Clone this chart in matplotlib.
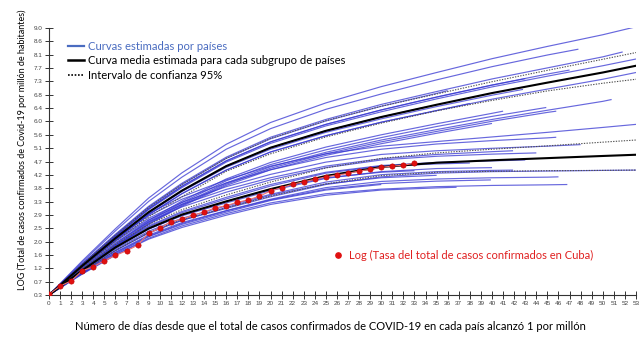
import numpy as np
import matplotlib
matplotlib.use("Agg")
import matplotlib.pyplot as plt
from matplotlib.lines import Line2D

# Days at which each estimated curve is tabulated; a curve stops at its own last day
knot_days = [0, 3, 6, 9, 12, 16, 20, 25, 30, 35, 40, 45, 50, 53]

# Group with faster growth: per-country estimated curves
upper_end_days = [53, 47.8, 51.8, 53, 53, 50.8, 42.8, 44.9, 45.8, 41, 38, 36, 43, 40, 34, 47]
upper_values = [
    [0.3, 1.41, 2.46, 3.46, 4.28, 5.21, 5.92, 6.56, 7.09, 7.55, 8.0, 8.4, 8.78, 9.04],
    [0.3, 1.37, 2.39, 3.35, 4.14, 5.05, 5.72, 6.35, 6.85, 7.31, 7.74, 8.12, 8.31],
    [0.3, 1.32, 2.28, 3.19, 3.94, 4.79, 5.44, 6.02, 6.51, 6.93, 7.34, 7.70, 8.06, 8.22],
    [0.3, 1.28, 2.21, 3.08, 3.8, 4.63, 5.24, 5.81, 6.27, 6.69, 7.08, 7.43, 7.77, 7.99],
    [0.3, 1.22, 2.09, 2.92, 3.6, 4.37, 4.96, 5.49, 5.93, 6.31, 6.68, 7.01, 7.33, 7.55],
    [0.3, 1.13, 1.91, 2.65, 3.26, 3.95, 4.48, 4.95, 5.35, 5.69, 6.02, 6.32, 6.61, 6.67],
    [0.3, 1.24, 2.13, 2.97, 3.67, 4.46, 5.05, 5.6, 6.04, 6.44, 6.81, 7.0],
    [0.3, 1.14, 1.94, 2.69, 3.31, 4.02, 4.55, 5.03, 5.43, 5.79, 6.12, 6.41],
    [0.3, 1.12, 1.89, 2.62, 3.22, 3.91, 4.43, 4.9, 5.29, 5.63, 5.96, 6.25, 6.29],
    [0.3, 1.16, 1.97, 2.73, 3.36, 4.08, 4.62, 5.12, 5.52, 5.88, 6.22, 6.29],
    [0.3, 1.22, 2.09, 2.92, 3.6, 4.37, 4.96, 5.49, 5.93, 6.31, 6.54],
    [0.3, 1.31, 2.26, 3.16, 3.9, 4.75, 5.39, 5.97, 6.45, 6.87, 6.96],
    [0.3, 1.29, 2.22, 3.11, 3.84, 4.67, 5.29, 5.86, 6.33, 6.75, 7.14, 7.35],
    [0.3, 1.11, 1.87, 2.6, 3.19, 3.87, 4.38, 4.85, 5.23, 5.57, 5.89],
    [0.3, 1.25, 2.15, 3.0, 3.7, 4.5, 5.1, 5.65, 6.1, 6.42],
    [0.3, 1.29, 2.22, 3.11, 3.84, 4.67, 5.29, 5.86, 6.33, 6.75, 7.14, 7.5, 7.63],
]
upper_mean = [0.3, 1.25, 2.15, 3.0, 3.7, 4.5, 5.1, 5.65, 6.1, 6.5, 6.88, 7.22, 7.55, 7.77]
upper_ci_high = [0.3, 1.3, 2.25, 3.15, 3.9, 4.75, 5.4, 5.98, 6.45, 6.85, 7.25, 7.62, 7.98, 8.2]
upper_ci_low = [0.3, 1.2, 2.05, 2.85, 3.5, 4.33, 4.9, 5.45, 5.9, 6.3, 6.64, 6.95, 7.2, 7.33]

# Group with slower growth
lower_end_days = [53, 45.8, 41.9, 53, 41.9, 46.8, 39.9, 36.8, 44, 38, 35, 48, 43, 30, 40, 46, 33]
lower_values = [
    [0.3, 1.3, 2.2, 2.95, 3.5, 4.05, 4.5, 4.9, 5.15, 5.3, 5.45, 5.6, 5.76, 5.86],
    [0.3, 1.28, 2.15, 2.88, 3.42, 3.95, 4.38, 4.78, 5.05, 5.22, 5.33, 5.42, 5.44],
    [0.3, 1.2, 2.05, 2.75, 3.25, 3.74, 4.12, 4.5, 4.74, 4.88, 4.97, 5.0],
    [0.3, 1.05, 1.75, 2.33, 2.74, 3.12, 3.5, 3.9, 4.15, 4.27, 4.32, 4.34, 4.36, 4.37],
    [0.3, 1.08, 1.8, 2.38, 2.8, 3.2, 3.58, 3.98, 4.22, 4.32, 4.36, 4.37],
    [0.3, 1.0, 1.62, 2.15, 2.55, 2.95, 3.3, 3.6, 3.75, 3.83, 3.87, 3.89, 3.9],
    [0.3, 1.02, 1.68, 2.22, 2.63, 3.04, 3.4, 3.75, 3.93, 4.01, 4.05],
    [0.3, 0.98, 1.6, 2.12, 2.5, 2.9, 3.25, 3.55, 3.72, 3.79, 3.81],
    [0.3, 1.18, 2.0, 2.68, 3.17, 3.65, 4.05, 4.45, 4.7, 4.82, 4.89, 4.93],
    [0.3, 1.12, 1.9, 2.52, 2.98, 3.43, 3.85, 4.27, 4.5, 4.57, 4.6],
    [0.3, 1.05, 1.75, 2.32, 2.73, 3.15, 3.55, 3.92, 4.12, 4.2],
    [0.3, 1.22, 2.08, 2.8, 3.32, 3.83, 4.23, 4.63, 4.88, 5.0, 5.08, 5.15, 5.2],
    [0.3, 1.14, 1.92, 2.55, 3.02, 3.48, 3.9, 4.3, 4.52, 4.62, 4.67, 4.7],
    [0.3, 1.0, 1.65, 2.2, 2.6, 3.0, 3.38, 3.72, 3.9],
    [0.3, 1.1, 1.85, 2.45, 2.88, 3.3, 3.7, 4.1, 4.32, 4.42, 4.45],
    [0.3, 1.03, 1.7, 2.25, 2.66, 3.05, 3.42, 3.8, 4.0, 4.08, 4.12, 4.14, 4.15],
    [0.3, 1.1, 1.85, 2.45, 2.9, 3.35, 3.75, 4.12, 4.3, 4.35],
]
lower_mean = [0.3, 1.1, 1.85, 2.47, 2.92, 3.35, 3.75, 4.18, 4.47, 4.61, 4.69, 4.76, 4.83, 4.87]
lower_ci_high = [0.3, 1.15, 1.95, 2.6, 3.08, 3.56, 3.98, 4.44, 4.75, 4.93, 5.05, 5.16, 5.28, 5.35]
lower_ci_low = [0.3, 1.05, 1.75, 2.34, 2.76, 3.14, 3.52, 3.92, 4.19, 4.3, 4.33, 4.35, 4.36, 4.37]

# Cuba: log of the cumulative confirmed-case rate, days 0..33
cuba_days = list(range(34))
cuba_log_rate = [0.32, 0.59, 0.76, 1.09, 1.22, 1.42, 1.59, 1.74, 1.92, 2.32, 2.47, 2.69,
                 2.77, 2.90, 3.0, 3.14, 3.21, 3.32, 3.40, 3.52, 3.69, 3.80, 3.91, 3.99,
                 4.07, 4.15, 4.21, 4.26, 4.34, 4.39, 4.46, 4.50, 4.53, 4.59]

y_tick_labels = ['0.3', '0.7', '1.2', '1.6', '2.0', '2.5', '2.9', '3.3', '3.8', '4.2', '4.7',
                 '5.1', '5.6', '6.0', '6.4', '6.8', '7.3', '7.7', '8.1', '8.6', '9.0']
x_tick_labels = [str(d) for d in range(54)]

BLUE = '#3535d2'
TEXT_FONT = ['Lato', 'DejaVu Sans']


def curve_days(end_day):
    return [d for d in knot_days if d < end_day] + [end_day]


fig = plt.figure(figsize=(6.44, 3.38), dpi=100)
ax = fig.add_axes([49 / 644, 1 - 295 / 338, (636 - 49) / 644, (295 - 28) / 338])

for end, vals in zip(upper_end_days + lower_end_days, upper_values + lower_values):
    ax.plot(curve_days(end), vals, color=BLUE, lw=0.85, alpha=0.75, zorder=2,
            solid_capstyle='butt', solid_joinstyle='round')

for ci in (upper_ci_high, upper_ci_low, lower_ci_high, lower_ci_low):
    ax.plot(knot_days, ci, color='#505050', lw=0.8, ls=(0, (1.2, 1.2)), zorder=3)

for mean in (upper_mean, lower_mean):
    ax.plot(knot_days, mean, color='black', lw=1.5, zorder=4, solid_joinstyle='round')

ax.plot(cuba_days, cuba_log_rate, color='#f07070', lw=0.8, zorder=5)
ax.plot(cuba_days, cuba_log_rate, ls='none', marker='o', ms=3.8, color='#e01010',
        mec='#c00000', mew=0.4, zorder=6)

ax.set_xlim(0, 53)
ax.set_ylim(0.3, 9.0)
ax.set_xticks(range(54))
ax.set_xticklabels(x_tick_labels)
ax.set_yticks(np.linspace(0.3, 9.0, len(y_tick_labels)))
ax.set_yticklabels(y_tick_labels)
for s in ('top', 'right'):
    ax.spines[s].set_visible(False)
for s in ('left', 'bottom'):
    ax.spines[s].set_color('#333333')
    ax.spines[s].set_linewidth(0.8)
ax.tick_params(axis='both', direction='inout', length=6, width=0.7, color='#333333',
               labelsize=4.6, labelcolor='#444444', pad=1.5)
for lab in ax.get_xticklabels() + ax.get_yticklabels():
    lab.set_family(['Liberation Sans', 'DejaVu Sans'])

fig.text(22 / 644, 1 - 150 / 338,
         'LOG (Total de casos confirmados de Covid-19 por millón de habitantes)',
         rotation=90, ha='center', va='center', fontsize=6.5, family=TEXT_FONT)
fig.text(330 / 644, 1 - 326 / 338,
         'Número de días desde que el total de casos confirmados de COVID-19 en cada país alcanzó 1 por millón',
         ha='center', va='center', fontsize=8, family=TEXT_FONT)

handles = [Line2D([], [], color='#4a6cc0', lw=1.6),
           Line2D([], [], color='black', lw=1.8),
           Line2D([], [], color='black', lw=1.2, ls=(0, (1, 1)))]
labels = ['Curvas estimadas por países',
          'Curva media estimada para cada subgrupo de países',
          'Intervalo de confianza 95%']
leg = fig.legend(handles, labels, loc='upper left', bbox_to_anchor=(68 / 644, 1 - 41 / 338),
                 frameon=False, handlelength=1.4, handletextpad=0.4, labelspacing=0.3,
                 borderaxespad=0, borderpad=0, prop={'family': TEXT_FONT, 'size': 8.1})
leg.get_texts()[0].set_color('#4a6cc0')

cuba_handle = Line2D([], [], ls='none', marker='o', ms=3.8, color='#e01010')
leg2 = fig.legend([cuba_handle], ['Log (Tasa del total de casos confirmados en Cuba)'],
                  loc='center left', bbox_to_anchor=(332 / 644, 1 - 255 / 338),
                  frameon=False, handlelength=1.0, handletextpad=0.5, borderaxespad=0,
                  borderpad=0, prop={'family': TEXT_FONT, 'size': 8})
leg2.get_texts()[0].set_color('#e02020')

fig.savefig('out.png', dpi=100)
